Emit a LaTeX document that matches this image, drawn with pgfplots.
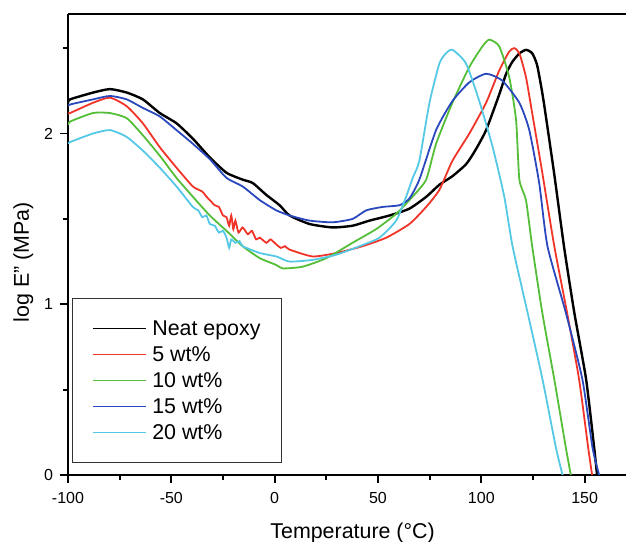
\documentclass[border=0pt]{standalone}
\usepackage{fontspec}
\setmainfont{Liberation Sans}
\usepackage{pgfplots}
\pgfplotsset{compat=1.18}

\definecolor{cRed}{RGB}{240,52,40}
\definecolor{cGreen}{RGB}{84,190,56}
\definecolor{cBlue}{RGB}{42,72,190}
\definecolor{cCyan}{RGB}{84,200,228}

\begin{document}
\begin{tikzpicture}
\begin{axis}[
  scale only axis,
  width=279pt, height=230.5pt,
  xmin=-100, xmax=170, ymin=0, ymax=2.7,
  axis x line*=bottom, axis y line*=left,
  x axis line style={-}, y axis line style={-},
  axis line style={line width=1pt, black},
  xtick={-100,-50,0,50,100,150},
  minor xtick={-75,-25,25,75,125},
  ytick={0,1,2},
  minor ytick={0.5,1.5,2.5},
  tick align=outside,
  major tick length=4pt, minor tick length=2.5pt,
  every tick/.style={black, line width=0.9pt},
  tick label style={font=\fontsize{8}{9}\selectfont},
  /pgf/number format/assume math mode=true,
  xticklabel style={yshift=-1pt},
  xlabel={Temperature (°C)},
  ylabel={log E\symbol{34} (MPa)},
  label style={font=\fontsize{10.7}{12}\selectfont},
  xlabel style={at={(axis description cs:0.51,-0.125)}, anchor=center},
  ylabel style={at={(axis description cs:-0.08,0.462)}, anchor=center},
  legend cell align=left,
  legend style={at={(axis description cs:0,0)}, anchor=south west,
    xshift=2pt, yshift=6pt, draw=black!80, line width=0.5pt,
    font=\fontsize{10.7}{12}\selectfont,
    inner xsep=9.9pt, inner ysep=8.6pt, row sep=0.2pt,
    nodes={inner xsep=0.6pt, inner ysep=0pt, text height=10pt, text depth=2.8pt}},
  legend image code/.code={\draw[#1, line width=0.8pt] (0pt,0pt) -- (26.5pt,0pt);
    \path[draw=none] (29pt,0pt);},
  every axis plot/.append style={no marks, smooth, tension=0.35},
]
\addplot[black, line width=1.2pt] coordinates {
(-100,2.18) (-99,2.20) (-87.8,2.24) (-79.7,2.26) (-71.6,2.24) (-63.8,2.20)
(-55.6,2.12) (-47.5,2.06) (-39.6,1.97) (-31.4,1.86) (-23.3,1.77) (-15.5,1.73)
(-10.6,1.71) (-4.0,1.64) (2.4,1.58) (7.2,1.52) (16.9,1.47) (28.0,1.45)
(37.7,1.46) (45.9,1.49) (55.6,1.52) (65.2,1.56) (73.4,1.63) (79.7,1.70)
(86,1.75) (92.6,1.82) (97,1.90) (102.3,2.02) (108.7,2.23) (112,2.35) (115,2.42)
(118.5,2.47) (121.7,2.49) (124.6,2.47) (127,2.40) (130,2.20) (135.3,1.76)
(140.1,1.33) (145,0.95) (150.7,0.56) (154.6,0.16) (156,0)};
\addplot[cRed, line width=0.9pt] coordinates {
(-100,2.12) (-99,2.12) (-87.9,2.18) (-79.7,2.21) (-71.6,2.16) (-63.8,2.06)
(-55.6,1.92) (-47.5,1.80) (-39.6,1.69) (-35,1.66) (-33,1.63) (-31.4,1.61)
(-29,1.58) (-27,1.57) (-25,1.52) (-23.3,1.51) (-22,1.46) (-21,1.52) (-20,1.44)
(-19,1.49) (-17.5,1.42) (-15.5,1.45) (-13,1.41) (-11,1.43) (-9,1.38) (-7.2,1.39)
(-4,1.36) (-2,1.38) (0.8,1.35) (3,1.33) (5,1.34) (7.2,1.32)
(18.4,1.28) (29.8,1.30) (42.5,1.34)
(54,1.39) (65.2,1.47) (73.3,1.57) (79.7,1.67) (86,1.84) (94.2,2.00)
(102.3,2.18) (108.7,2.37) (113.5,2.48) (115.9,2.50) (118.4,2.47) (121.6,2.33)
(124.6,2.12) (129.5,1.77) (135.3,1.34) (141.5,0.95) (147.3,0.56) (151.7,0.16)
(153.6,0)};
\addplot[cGreen, line width=0.9pt] coordinates {
(-100,2.05) (-99,2.07) (-87.9,2.12) (-79.7,2.12) (-71.6,2.09) (-63.8,1.99)
(-55.6,1.87) (-47.5,1.74) (-39.6,1.63) (-31.4,1.52) (-23.3,1.43) (-15.5,1.34)
(-7.2,1.27) (0.8,1.23) (3.9,1.21) (13.5,1.22) (25,1.27) (37.7,1.36)
(49.1,1.44) (58.8,1.53) (66.7,1.63) (73.3,1.73) (78.1,1.94) (86,2.18)
(94.2,2.39) (100.5,2.51) (103.9,2.55) (108.7,2.51) (113.5,2.33) (116.8,2.08)
(118.4,1.73) (121.6,1.61) (124.6,1.34) (129.5,0.95) (135.3,0.56) (140.9,0.16)
(143.3,0)};
\addplot[cBlue, line width=0.9pt] coordinates {
(-100,2.16) (-99,2.17) (-87.9,2.20) (-79.7,2.22) (-71.6,2.20) (-63.8,2.15)
(-55.6,2.10) (-47.5,2.02) (-39.6,1.94) (-31.4,1.85) (-23.3,1.74) (-15.5,1.69)
(-7.2,1.61) (0.8,1.55) (7.2,1.52) (16.9,1.49) (28,1.48) (37.7,1.50)
(44.3,1.55) (52.2,1.57) (60.4,1.58) (65.2,1.62) (70,1.73) (78.1,2.02)
(86,2.19) (94.2,2.30) (102.3,2.35) (110.1,2.31) (118.4,2.18) (123.2,2.02)
(128,1.71) (132,1.34) (140.9,0.95) (148.9,0.56) (153.8,0.16) (157,0)};
\addplot[cCyan, line width=0.9pt] coordinates {
(-100,1.94) (-99,1.95) (-87.9,2.00) (-79.7,2.02) (-71.6,1.98) (-63.8,1.90)
(-55.6,1.80) (-47.5,1.69) (-39.6,1.57) (-37,1.55) (-35,1.51) (-33,1.52)
(-31.4,1.47) (-29,1.46) (-27,1.42) (-25,1.43) (-23.3,1.39) (-22,1.33)
(-21,1.38) (-19,1.36) (-17,1.37) (-15.5,1.34)
(-7.2,1.30) (0.8,1.28) (7.2,1.25) (18.4,1.26) (29.8,1.29) (41.1,1.34)
(50.7,1.39) (58.8,1.49) (63.6,1.63) (66.8,1.74) (70,1.84) (74.9,2.18)
(79.7,2.41) (82.9,2.47) (86.1,2.49) (92.6,2.41) (99,2.19) (105.5,1.92)
(111.1,1.63) (115.1,1.34) (122.4,0.95) (129.6,0.56) (136.1,0.16) (139.3,0)};
\legend{Neat epoxy, 5 wt\%, 10 wt\%, 15 wt\%, 20 wt\%}
\draw[line width=1pt, black] (rel axis cs:0,1) -- (rel axis cs:1,1);
\end{axis}
\pgfresetboundingbox
\path[use as bounding box] (-34pt,-33pt) rectangle (279pt,237.5pt);
\end{tikzpicture}
\end{document}
